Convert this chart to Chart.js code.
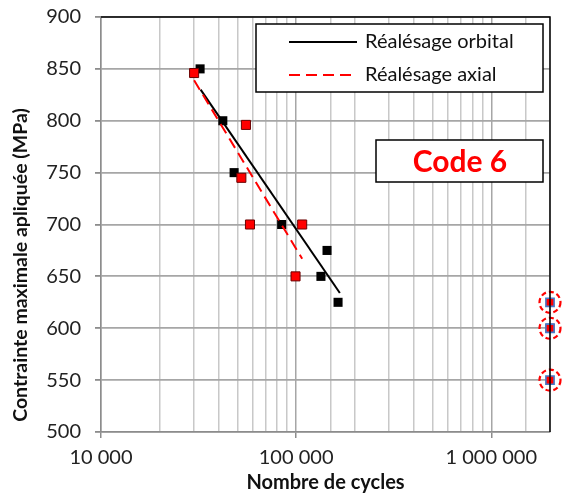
<!DOCTYPE html>
<html>
<head>
<meta charset="utf-8">
<script src="https://cdn.jsdelivr.net/npm/chart.js@4/dist/chart.umd.min.js"></script>
<style>
  html, body { margin: 0; padding: 0; background: #fff; }
  #wrap { width: 562px; height: 497px; position: relative; }
</style>
</head>
<body>
<div id="wrap"><canvas id="c" width="562" height="497"></canvas></div>
<script>
// Fatigue results (S-N) — stress vs. number of cycles, two reaming processes
const orbitalCycles = [32200, 42100, 48100, 84300, 134000, 144000, 164000];
const orbitalStress = [850, 800, 750, 700, 650, 675, 625];

const axialCycles = [30000, 55300, 52400, 58000, 107400, 99300];
const axialStress = [846, 796, 745, 700, 700, 650];

// Run-outs (test stopped at 2 000 000 cycles)
const orbitalRunoutCycles = [2000000];
const orbitalRunoutStress = [600];
const runoutCycles = [2000000, 2000000, 2000000];
const runoutStress = [625, 600, 550];

// Trend lines
const orbitalTrendCycles = [32400, 167500];
const orbitalTrendStress = [830, 634];
const axialTrendCycles = [30000, 107400];
const axialTrendStress = [839, 667];

const xTickLabels = { 10000: '10 000', 100000: '100 000', 1000000: '1 000 000' };
const yTitle = 'Contrainte maximale apliquée (MPa)';
const xTitle = 'Nombre de cycles';
const seriesNames = ['Réalésage orbital', 'Réalésage axial'];
const codeLabel = 'Code 6';

const FONT = 'Lato';

const pts = (xs, ys) => xs.map((x, i) => ({ x, y: ys[i] }));
const isDecade = v => Math.abs(Math.log10(v) - Math.round(Math.log10(v))) < 1e-9;

// frame, legend, code box, run-out circles, y title
const decorations = {
  id: 'decorations',
  afterDatasetsDraw(chart) {
    const { ctx, chartArea: a } = chart;
    ctx.save();

    // run-out circles
    const meta = chart.getDatasetMeta(3);
    ctx.strokeStyle = '#ff0000';
    ctx.lineWidth = 2.2;
    ctx.setLineDash([5, 3]);
    meta.data.forEach(p => {
      ctx.beginPath();
      ctx.arc(p.x, p.y, 10.5, 0, Math.PI * 2);
      ctx.stroke();
    });
    ctx.setLineDash([]);

    // top and right frame
    ctx.strokeStyle = '#000';
    ctx.lineWidth = 1.5;
    ctx.beginPath();
    ctx.moveTo(a.left, a.top);
    ctx.lineTo(a.right, a.top);
    ctx.lineTo(a.right, a.bottom);
    ctx.stroke();

    // legend box
    ctx.fillStyle = '#fff';
    ctx.fillRect(256, 24, 287, 68);
    ctx.strokeStyle = '#000';
    ctx.lineWidth = 1.5;
    ctx.strokeRect(256, 24, 287, 68);
    const rows = [{ y: 42, ds: chart.data.datasets[4] }, { y: 75, ds: chart.data.datasets[5] }];
    rows.forEach((r, i) => {
      ctx.strokeStyle = r.ds.borderColor;
      ctx.lineWidth = r.ds.borderWidth;
      ctx.setLineDash(r.ds.borderDash || []);
      ctx.beginPath();
      ctx.moveTo(289, r.y);
      ctx.lineTo(357, r.y);
      ctx.stroke();
      ctx.setLineDash([]);
      ctx.fillStyle = '#111';
      ctx.font = `20px ${FONT}`;
      ctx.textBaseline = 'middle';
      ctx.textAlign = 'left';
      ctx.fillText(seriesNames[i], 365, r.y);
    });

    // code box
    ctx.fillStyle = '#fff';
    ctx.fillRect(376, 140, 167, 42);
    ctx.strokeStyle = '#000';
    ctx.lineWidth = 1.5;
    ctx.strokeRect(376, 140, 167, 42);
    ctx.fillStyle = '#ff0000';
    ctx.font = `bold 30px ${FONT}`;
    ctx.textAlign = 'center';
    ctx.textBaseline = 'middle';
    ctx.fillText(codeLabel, 460, 162);

    // y axis title
    ctx.translate(21, 265);
    ctx.rotate(-Math.PI / 2);
    ctx.fillStyle = '#111';
    ctx.font = `bold 19.5px ${FONT}`;
    ctx.fillText(yTitle, 0, 0);
    ctx.restore();
  }
};

new Chart(document.getElementById('c'), {
  type: 'scatter',
  data: {
    datasets: [
      {
        label: 'orbital runout',
        data: pts(orbitalRunoutCycles, orbitalRunoutStress),
        pointStyle: 'rect', pointRadius: 6.4, backgroundColor: '#000', borderColor: '#000', borderWidth: 0,
        clip: false, order: 5
      },
      {
        label: seriesNames[0] + ' points',
        data: pts(orbitalCycles, orbitalStress),
        pointStyle: 'rect', pointRadius: 6.4, backgroundColor: '#000', borderColor: '#000', borderWidth: 0,
        order: 4
      },
      {
        label: seriesNames[1] + ' points',
        data: pts(axialCycles, axialStress),
        pointStyle: 'rect', pointRadius: 6.4, backgroundColor: '#ff0000', borderColor: '#6b0000', borderWidth: 1,
        order: 3
      },
      {
        label: 'runout',
        data: pts(runoutCycles, runoutStress),
        pointStyle: 'rect', pointRadius: 5.8, backgroundColor: '#ff0000', borderColor: '#4a78c8', borderWidth: 1.6,
        clip: false, order: 0
      },
      {
        label: seriesNames[0],
        data: pts(orbitalTrendCycles, orbitalTrendStress),
        showLine: true, borderColor: '#000', borderWidth: 2, pointRadius: 0, fill: false,
        order: 2
      },
      {
        label: seriesNames[1],
        data: pts(axialTrendCycles, axialTrendStress),
        showLine: true, borderColor: '#ff0000', borderWidth: 2, borderDash: [11, 6], pointRadius: 0, fill: false,
        order: 1
      }
    ]
  },
  options: {
    responsive: false,
    animation: false,
    layout: { padding: { top: 17, right: 12, left: 0, bottom: 0 } },
    plugins: { legend: { display: false }, tooltip: { enabled: false } },
    scales: {
      x: {
        type: 'logarithmic',
        min: 10000,
        max: 2000000,
        afterFit: s => { s.height = 65; s.paddingLeft = 0; s.paddingRight = 0; },
        border: { color: '#8c8c8c', width: 1.5 },
        grid: {
          color: c => (c.tick && isDecade(c.tick.value)) ? '#a6a6a6' : '#c8c8c8',
          lineWidth: 1.5,
          tickLength: 6,
          tickColor: c => (c.tick && isDecade(c.tick.value) && c.tick.value < 2000000) ? '#8c8c8c' : 'rgba(0,0,0,0)'
        },
        ticks: {
          autoSkip: false,
          maxRotation: 0,
          padding: 8,
          color: '#222',
          font: { family: FONT, size: 20 },
          callback: v => xTickLabels[v] || ''
        },
        title: {
          display: true,
          text: xTitle,
          color: '#111',
          font: { family: FONT, size: 20, weight: 'bold' },
          padding: { top: 0, bottom: 2 }
        }
      },
      y: {
        min: 500,
        max: 900,
        afterFit: s => { s.width = 101; s.paddingTop = 0; s.paddingBottom = 0; },
        border: { color: '#8c8c8c', width: 1.5 },
        grid: { color: '#a6a6a6', lineWidth: 1.8, tickLength: 6, tickColor: '#8c8c8c' },
        ticks: {
          stepSize: 50,
          padding: 14,
          color: '#222',
          font: { family: FONT, size: 20 }
        }
      }
    }
  },
  plugins: [decorations]
});
</script>
</body>
</html>
